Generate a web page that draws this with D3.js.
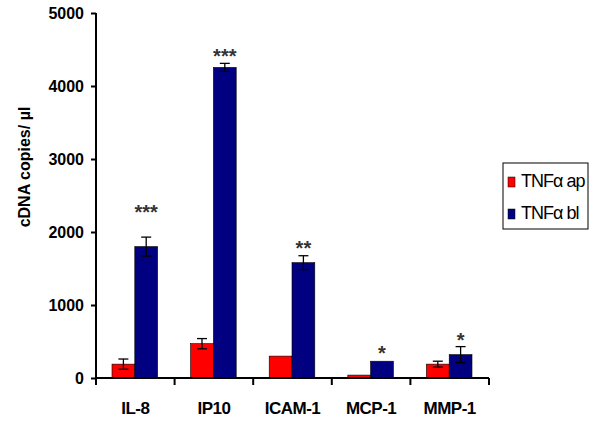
<!DOCTYPE html>
<html>
<head>
<meta charset="utf-8">
<script src="https://cdn.jsdelivr.net/npm/d3@7"></script>
<style>
  body { margin: 0; background: #fff; }
  text { font-family: "Liberation Sans", Arial, sans-serif; }
</style>
</head>
<body>
<svg id="chart" width="600" height="425"></svg>
<script>
// data
const genes = ["IL-8", "IP10", "ICAM-1", "MCP-1", "MMP-1"];
const seriesNames = ["TNF\u03b1 ap", "TNF\u03b1 bl"];
const apValues = [190, 470, 300, 40, 190];
const apErrors = [70, 70, 0, 0, 40];
const blValues = [1800, 4255, 1580, 230, 320];
const blErrors = [130, 55, 95, 0, 110];
const stars = ["***", "***", "**", "*", "*"];
// height (in cDNA copies) where the bottom of each star mark sits
const starLevels = [2290, 4425, 1795, 356, 534];
const yTicks = [0, 1000, 2000, 3000, 4000, 5000];
const colors = ["#ff0000", "#000080"];

const svg = d3.select("#chart");
const margin = {top: 13, left: 96, bottom: 47};
const plotW = 393;
const innerH = 425 - margin.top - margin.bottom;

const g = svg.append("g")
  .attr("transform", `translate(${margin.left},${margin.top})`);

// scales
const x = d3.scaleBand()
  .domain(genes)
  .range([0, plotW]);

const inner = d3.scaleBand()
  .domain([0, 1])
  .range([16, x.bandwidth() - 17]);

const y = d3.scaleLinear()
  .domain([0, 5000])
  .range([innerH, 0]);

const rows = genes.map((gene, i) => ({
  gene,
  vals: [
    {s: 0, v: apValues[i], e: apErrors[i]},
    {s: 1, v: blValues[i], e: blErrors[i]}
  ],
  star: stars[i],
  level: starLevels[i]
}));

const grp = g.selectAll(".grp")
  .data(rows)
  .enter().append("g")
    .attr("transform", d => `translate(${x(d.gene)},0)`);

// bars
grp.selectAll("rect")
  .data(d => d.vals)
  .enter().append("rect")
    .attr("x", d => inner(d.s))
    .attr("width", inner.bandwidth())
    .attr("y", d => y(d.v))
    .attr("height", d => innerH - y(d.v))
    .attr("fill", d => colors[d.s])
    .attr("stroke", "#000")
    .attr("stroke-width", 0.6);

// error bars
const err = grp.selectAll(".err")
  .data(d => d.vals.filter(v => v.e > 0))
  .enter().append("g")
    .attr("stroke", "#000")
    .attr("stroke-width", 1.3);

const cx = d => inner(d.s) + inner.bandwidth() / 2;

err.append("line")
  .attr("x1", cx).attr("x2", cx)
  .attr("y1", d => y(d.v - d.e))
  .attr("y2", d => y(d.v + d.e));

err.append("line")
  .attr("x1", d => cx(d) - 5).attr("x2", d => cx(d) + 5)
  .attr("y1", d => y(d.v + d.e))
  .attr("y2", d => y(d.v + d.e));

err.append("line")
  .attr("x1", d => cx(d) - 5).attr("x2", d => cx(d) + 5)
  .attr("y1", d => y(d.v - d.e))
  .attr("y2", d => y(d.v - d.e));

// significance stars
grp.append("text")
  .attr("x", inner(1) + inner.bandwidth() / 2)
  .attr("y", d => y(d.level) + 8)
  .attr("text-anchor", "middle")
  .attr("font-size", 20)
  .attr("font-weight", "bold")
  .attr("fill", "#333")
  .text(d => d.star);

// y axis
const yAxis = d3.axisLeft(y)
  .tickValues(yTicks)
  .tickSize(5)
  .tickPadding(7)
  .tickFormat(d3.format("d"));

const yAxisG = g.append("g").call(yAxis);
yAxisG.select(".domain")
  .attr("d", `M0,0V${innerH + 7}`)
  .attr("stroke-width", 2);
yAxisG.selectAll(".tick line").attr("stroke-width", 2);
yAxisG.selectAll(".tick text")
  .attr("font-size", 16)
  .attr("font-weight", "bold")
  .attr("fill", "#000");

// x axis: ticks at category boundaries
const xAxisG = g.append("g")
  .attr("transform", `translate(0,${innerH})`);

xAxisG.append("line")
  .attr("x1", 0).attr("x2", plotW)
  .attr("stroke", "#000").attr("stroke-width", 2);

xAxisG.selectAll(".bt")
  .data(genes.concat(["end"]))
  .enter().append("line")
    .attr("x1", (d, i) => i < genes.length ? x(d) : plotW)
    .attr("x2", (d, i) => i < genes.length ? x(d) : plotW)
    .attr("y1", 0).attr("y2", 7)
    .attr("stroke", "#000").attr("stroke-width", 2);

xAxisG.selectAll(".lbl")
  .data(genes)
  .enter().append("text")
    .attr("x", d => x(d) + x.bandwidth() / 2)
    .attr("y", 36)
    .attr("text-anchor", "middle")
    .attr("font-size", 17)
    .attr("font-weight", "bold")
    .attr("letter-spacing", -0.5)
    .text(d => d);

// y label
svg.append("text")
  .attr("transform", "translate(30,167) rotate(-90)")
  .attr("text-anchor", "middle")
  .attr("font-size", 16)
  .attr("font-weight", "bold")
  .text("cDNA copies/ \u00b5l");

// legend
const lg = svg.append("g").attr("transform", "translate(503,163)");
lg.append("rect")
  .attr("width", 85).attr("height", 66)
  .attr("fill", "#fff").attr("stroke", "#000").attr("stroke-width", 1);

const li = lg.selectAll(".li")
  .data(seriesNames)
  .enter().append("g")
    .attr("transform", (d, i) => `translate(5,${14 + i * 32})`);

li.append("rect")
  .attr("width", 7).attr("height", 10)
  .attr("fill", (d, i) => colors[i])
  .attr("stroke", "#000").attr("stroke-width", 0.5);

li.append("text")
  .attr("x", 13)
  .attr("y", 10)
  .attr("font-size", 18)
  .attr("letter-spacing", -1)
  .text(d => d);
</script>
</body>
</html>
